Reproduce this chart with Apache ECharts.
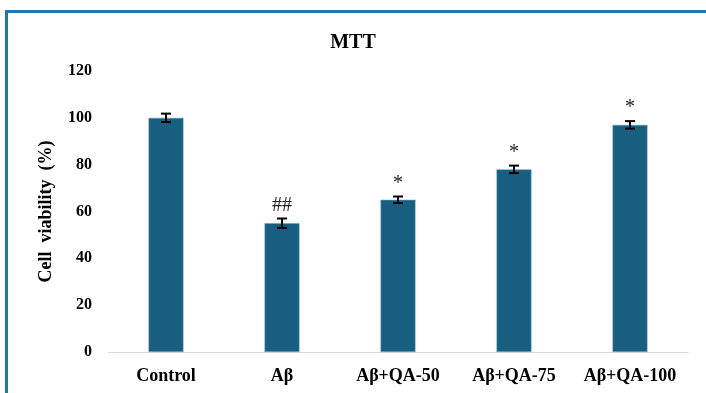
<!DOCTYPE html>
<html>
<head>
<meta charset="utf-8">
<script src="https://cdn.jsdelivr.net/npm/echarts@6/dist/echarts.min.js"></script>
<style>html,body{margin:0;padding:0;background:#fff}#c{width:706px;height:393px}</style>
</head>
<body>
<div id="c"></div>
<script>
var categories = ['Control', 'Aβ', 'Aβ+QA-50', 'Aβ+QA-75', 'Aβ+QA-100'];
var values = [100, 55, 65, 78, 97];
var errors = [1.8, 2.0, 1.4, 1.6, 1.6];
var annotations = ['', '##', '*', '*', '*'];
var yTicks = [0, 20, 40, 60, 80, 100, 120];

var chart = echarts.init(document.getElementById('c'));
var serif = '"Liberation Serif","Times New Roman",serif';
chart.setOption({
  animation: false,
  graphic: [{
    type: 'rect', z: 100,
    shape: { x: 6.5, y: 11.5, width: 760, height: 440 },
    style: { fill: 'none', stroke: '#1f7aa9', lineWidth: 3 }
  }],
  title: {
    text: 'MTT', left: 'center', top: 28,
    textStyle: { fontFamily: serif, fontWeight: 'bold', fontSize: 20, color: '#000' }
  },
  grid: { left: 108, right: 18, top: 71, bottom: 41 },
  xAxis: {
    type: 'category', data: categories,
    axisLine: { lineStyle: { color: '#d9d9d9', width: 1 } },
    axisTick: { show: false },
    axisLabel: { interval: 0, hideOverlap: false, fontFamily: serif, fontWeight: 'bold', fontSize: 18, color: '#000', margin: 15 }
  },
  yAxis: {
    type: 'value', min: yTicks[0], max: yTicks[yTicks.length - 1], interval: 20,
    name: 'Cell  viability  (%)', nameLocation: 'middle', nameGap: 53,
    nameTextStyle: { fontFamily: serif, fontWeight: 'bold', fontSize: 18, color: '#000' },
    axisLine: { show: false }, axisTick: { show: false }, splitLine: { show: false },
    axisLabel: { fontFamily: serif, fontWeight: 'bold', fontSize: 16, color: '#000', margin: 16 }
  },
  series: [{
    type: 'bar', data: values, barWidth: 35,
    itemStyle: { color: '#175e80', borderColor: '#6aa3bf', borderWidth: 0.6 }
  }, {
    type: 'custom',
    data: values.map(function (v, i) { return [i, v, errors[i]]; }),
    renderItem: function (params, api) {
      var i = api.value(0), v = api.value(1), e = api.value(2);
      var top = api.coord([i, v + e]);
      var bot = api.coord([i, v - e]);
      var hw = 5;
      var st = { stroke: '#000', lineWidth: 2 };
      var children = [
        { type: 'line', shape: { x1: top[0], y1: top[1], x2: bot[0], y2: bot[1] }, style: st },
        { type: 'line', shape: { x1: top[0] - hw, y1: top[1], x2: top[0] + hw, y2: top[1] }, style: st },
        { type: 'line', shape: { x1: bot[0] - hw, y1: bot[1], x2: bot[0] + hw, y2: bot[1] }, style: st }
      ];
      var ann = annotations[i];
      if (ann) {
        children.push({
          type: 'text',
          style: {
            text: ann, x: top[0], y: top[1] - 3,
            align: 'center', verticalAlign: 'bottom',
            font: '20px ' + serif, fill: '#222'
          }
        });
      }
      return { type: 'group', children: children };
    },
    z: 10
  }]
});
</script>
</body>
</html>
